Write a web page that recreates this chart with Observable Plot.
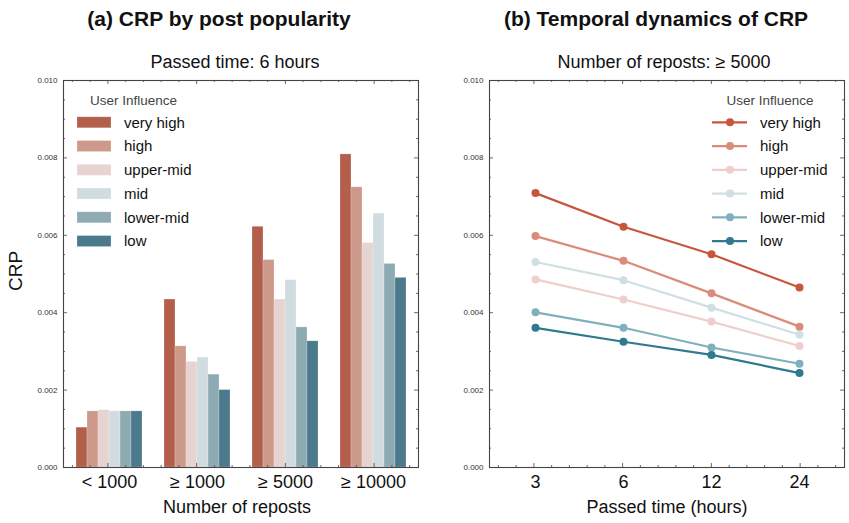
<!DOCTYPE html>
<html><head><meta charset="utf-8">
<script src="https://cdn.jsdelivr.net/npm/d3@7"></script>
<script src="https://cdn.jsdelivr.net/npm/@observablehq/plot@0.6"></script>
<style>
body{margin:0;background:#fff;font-family:"Liberation Sans",Arial,sans-serif;}
#root{position:relative;width:849px;height:523px;overflow:hidden;background:#fff;}
.layer{position:absolute;top:0;}
.layer svg{display:block;}
</style></head><body><div id="root"></div>
<script>
// ---------- data ----------
const levels = ["very high", "high", "upper-mid", "mid", "lower-mid", "low"];
const barColors = ["#b35f4b", "#cd998b", "#e7d3d1", "#d0dcdf", "#8eabb4", "#4a7a8b"];
const lineColors = ["#c8553d", "#da8b79", "#efcfcb", "#cfdfe4", "#80b0be", "#2f7a91"];

const repostGroups = ["< 1000", "≥ 1000", "≥ 5000", "≥ 10000"];
const crpLt1000   = [0.00103, 0.00145, 0.00148, 0.00145, 0.00145, 0.00145];
const crpGe1000   = [0.00434, 0.00313, 0.00273, 0.00284, 0.00240, 0.00200];
const crpGe5000   = [0.00622, 0.00536, 0.00434, 0.00484, 0.00362, 0.00326];
const crpGe10000  = [0.00809, 0.00724, 0.00580, 0.00656, 0.00526, 0.00490];

const hours = [3, 6, 12, 24];
const tVeryHigh = [0.00709, 0.00622, 0.00551, 0.00465];
const tHigh     = [0.00598, 0.00534, 0.00450, 0.00364];
const tUpperMid = [0.00486, 0.00434, 0.00377, 0.00314];
const tMid      = [0.00531, 0.00484, 0.00413, 0.00343];
const tLowerMid = [0.00401, 0.00361, 0.00310, 0.00268];
const tLow      = [0.00361, 0.00325, 0.00291, 0.00244];

const yTicks = [0, 0.002, 0.004, 0.006, 0.008, 0.010];
const yMinor = [0.0005,0.001,0.0015,0.0025,0.003,0.0035,0.0045,0.005,0.0055,0.0065,0.007,0.0075,0.0085,0.009,0.0095];
const xMajorIdx = [0, 1, 2, 3];
const xMinorIdx = [-0.4,-0.2,0.2,0.4,0.6,0.8,1.2,1.4,1.6,1.8,2.2,2.4,2.6,2.8,3.2,3.4];

// ---------- tables ----------
const barSeries = [crpLt1000, crpGe1000, crpGe5000, crpGe10000];
const barData = repostGroups.flatMap((g, gi) => levels.map((l, li) => ({group: g, level: l, value: barSeries[gi][li]})));
const lineSeries = [tVeryHigh, tHigh, tUpperMid, tMid, tLowerMid, tLow];
const lineData = levels.flatMap((l, li) => hours.map((h, hi) => ({level: l, hour: h, value: lineSeries[li][hi]})));

// ---------- layout ----------
const H = 523, mT = 80, mB = 56;
const font = "Liberation Sans, Arial, sans-serif";
const root = document.getElementById("root");
function addLayer(node, left) {
  const d = document.createElement("div");
  d.className = "layer"; d.style.left = left + "px";
  d.appendChild(node); root.appendChild(d);
}

// frame, inward ticks and y tick labels (shared y scale 0–0.010)
function frameLayer(W, mL, mR) {
  const ph = H - mT - mB, pw = W - mL - mR;
  const st = {stroke: "#444", strokeWidth: 0.8};
  return Plot.plot({
    width: W, height: H, marginLeft: mL, marginRight: mR, marginTop: mT, marginBottom: mB,
    style: {fontFamily: font, background: "transparent", color: "#333"},
    x: {domain: [-0.5, 3.5], axis: null},
    y: {domain: [0, 0.01]},
    marks: [
      Plot.axisY({ticks: yTicks, tickFormat: d3.format(".3f"), tickSize: 0, tickPadding: 6,
        textAnchor: "end", fontSize: 8, fill: "#333", label: null}),
      Plot.tickX(xMajorIdx, {x: d => d, insetTop: ph - 4, ...st}),
      Plot.tickX(xMajorIdx, {x: d => d, insetBottom: ph - 4, ...st}),
      Plot.tickX(xMinorIdx, {x: d => d, insetTop: ph - 2, ...st}),
      Plot.tickX(xMinorIdx, {x: d => d, insetBottom: ph - 2, ...st}),
      Plot.tickY(yTicks, {y: d => d, insetRight: pw - 4, ...st}),
      Plot.tickY(yTicks, {y: d => d, insetLeft: pw - 4, ...st}),
      Plot.tickY(yMinor, {y: d => d, insetRight: pw - 2, ...st}),
      Plot.tickY(yMinor, {y: d => d, insetLeft: pw - 2, ...st}),
      Plot.frame({stroke: "#444", strokeWidth: 1.1})
    ]
  });
}

// ---------- left: bars ----------
const WL = 425, mLL = 63, mRL = 7;
const leftChart = Plot.plot({
  width: WL, height: H, marginLeft: mLL, marginRight: mRL, marginTop: mT, marginBottom: mB,
  style: {fontFamily: font, background: "transparent", color: "#111"},
  fx: {domain: repostGroups, paddingInner: 0.21, paddingOuter: 0.105, label: null},
  x: {domain: levels, padding: 0, axis: null},
  y: {domain: [0, 0.01], axis: null},
  color: {domain: levels, range: barColors},
  marks: [
    Plot.barY(barData, {fx: "group", x: "level", y: "value", fill: "level", stroke: "#fff", strokeOpacity: 0.3, strokeWidth: 0.7}),
    Plot.axisFx({anchor: "bottom", tickSize: 0, tickPadding: 8, fontSize: 18, label: null})
  ]
});
addLayer(leftChart, 0);
addLayer(frameLayer(WL, mLL, mRL), 0);

// ---------- right: lines ----------
const WR = 425, offR = 424, mLR = 65, mRR = 5;
const rightChart = Plot.plot({
  width: WR, height: H, marginLeft: mLR, marginRight: mRR, marginTop: mT, marginBottom: mB,
  style: {fontFamily: font, background: "transparent", color: "#111"},
  x: {type: "point", domain: hours, padding: 0.5},
  y: {domain: [0, 0.01], axis: null},
  color: {domain: levels, range: lineColors},
  marks: [
    Plot.axisX({tickSize: 0, tickPadding: 8, fontSize: 18, label: null}),
    Plot.line(lineData, {x: "hour", y: "value", stroke: "level", z: "level", strokeWidth: 2.2}),
    Plot.dot(lineData, {x: "hour", y: "value", fill: "level", r: 4})
  ]
});
addLayer(rightChart, offR);
addLayer(frameLayer(WR, mLR, mRR), offR);

// ---------- annotations: titles, axis labels, legends ----------
const svg = d3.create("svg").attr("width", 849).attr("height", H)
  .style("position", "absolute").style("left", 0).style("top", 0)
  .style("font-family", font);
function txt(x, y, s, size, opts = {}) {
  const t = svg.append("text").attr("x", x).attr("y", y).attr("font-size", size)
    .attr("fill", opts.fill || "#111").attr("text-anchor", opts.anchor || "middle").text(s);
  if (opts.bold) t.attr("font-weight", "bold");
  if (opts.rotate) t.attr("transform", `rotate(-90 ${x} ${y})`);
  return t;
}
txt(219, 26, "(a) CRP by post popularity", 21, {bold: true});
txt(235, 68, "Passed time: 6 hours", 18);
txt(656, 26, "(b) Temporal dynamics of CRP", 21, {bold: true});
txt(664, 68, "Number of reposts: ≥ 5000", 18);
txt(22, 271, "CRP", 19, {rotate: true});
txt(237, 513, "Number of reposts", 18);
txt(667, 513, "Passed time (hours)", 18);

const rowY = i => 122.3 + i * 23.75;
txt(90, 105, "User Influence", 13.5, {anchor: "start", fill: "#444"});
txt(770, 105, "User Influence", 13.5, {fill: "#444"});
levels.forEach((l, i) => {
  const cy = rowY(i);
  svg.append("rect").attr("x", 77).attr("y", cy - 5.5).attr("width", 34).attr("height", 11)
    .attr("fill", barColors[i]).attr("stroke", "#fff").attr("stroke-opacity", 0.3).attr("stroke-width", 0.7);
  txt(124, cy + 5.3, l, 15, {anchor: "start"});
  svg.append("line").attr("x1", 712).attr("x2", 747).attr("y1", cy).attr("y2", cy)
    .attr("stroke", lineColors[i]).attr("stroke-width", 2.2);
  svg.append("circle").attr("cx", 730).attr("cy", cy).attr("r", 4).attr("fill", lineColors[i]);
  txt(760, cy + 5.3, l, 15, {anchor: "start"});
});
root.appendChild(svg.node());
</script>
</body></html>
